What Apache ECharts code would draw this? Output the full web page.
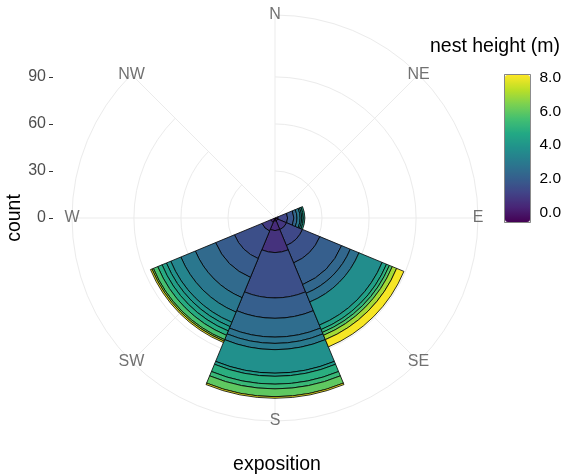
<!DOCTYPE html>
<html>
<head>
<meta charset="utf-8">
<script src="https://cdn.jsdelivr.net/npm/echarts@6/dist/echarts.min.js"></script>
<style>
html,body{margin:0;padding:0;background:#fff;}
#chart{width:564px;height:475px;}
</style>
</head>
<body>
<div id="chart"></div>
<script>
// ---- data ----
const directions = ['N', 'NE', 'E', 'SE', 'S', 'SW', 'W', 'NW'];
const radialTicks = [0, 30, 60, 90];
const legendTicks = [0, 2, 4, 6, 8];
const heightLimits = [-0.6, 8.2];
const radialMax = 129.5;

// stacked nest groups per exposition, inner -> outer
const heightE = [0.5, 1.2, 1.7, 2.3, 2.9, 3.4, 3.9, 4.4];
const countE  = [2, 6, 4, 2, 2, 1, 1, 1];

const heightSE = [0.1, 0.8, 1.3, 1.6, 2.0, 2.3, 2.6, 3.7, 4.4, 5.0, 5.8, 7.0, 8.1];
const countSE  = [2, 6, 11, 12, 15, 6, 6, 16, 3, 2, 2, 3, 5];

const heightS = [-0.4, 0.2, 0.45, 0.65, 1.5, 2.0, 2.5, 2.75, 3.0, 3.8, 4.2, 4.9, 5.3, 6.0, 8.0];
const countS  = [1, 1, 6, 14, 29, 13, 12, 4, 4, 15, 2, 5, 3, 5, 1];

const heightSW = [-0.2, 0.3, 0.9, 1.5, 1.9, 2.4, 2.9, 3.4, 3.9, 4.3, 4.8, 5.6, 6.5, 8.0];
const countSW  = [1, 2, 6, 19, 13, 14, 10, 7, 3, 3, 3, 3, 1, 1];

const viridis = ['#440154', '#482576', '#414487', '#35608D', '#2A788E', '#21908C',
                 '#22A884', '#43BF71', '#7AD151', '#BBDF27', '#FDE725'];

// ---- helpers ----
function hexToRgb(h) {
  return [parseInt(h.slice(1, 3), 16), parseInt(h.slice(3, 5), 16), parseInt(h.slice(5, 7), 16)];
}
function colorFor(h) {
  let t = (h - heightLimits[0]) / (heightLimits[1] - heightLimits[0]);
  t = Math.max(0, Math.min(1, t));
  const p = t * (viridis.length - 1);
  const i = Math.min(Math.floor(p), viridis.length - 2);
  const f = p - i;
  const a = hexToRgb(viridis[i]), b = hexToRgb(viridis[i + 1]);
  const c = a.map((v, k) => Math.round(v + (b[k] - v) * f));
  return 'rgb(' + c.join(',') + ')';
}

const groups = {
  E: { h: heightE, c: countE },
  SE: { h: heightSE, c: countSE },
  S: { h: heightS, c: countS },
  SW: { h: heightSW, c: countSW }
};
const nLayers = Math.max.apply(null, Object.values(groups).map(g => g.c.length));

const FONT = '"Liberation Sans", Arial, Helvetica, sans-serif';
const series = [];
for (let k = 0; k < nLayers; k++) {
  series.push({
    type: 'bar',
    coordinateSystem: 'polar',
    polarIndex: 0,
    stack: 'nests',
    barWidth: '100%',
    silent: true,
    itemStyle: { borderColor: '#000', borderWidth: 0.8 },
    data: directions.map(d => {
      const g = groups[d];
      if (!g || k >= g.c.length) return '-';
      return { value: g.c[k], itemStyle: { color: colorFor(g.h[k]) } };
    })
  });
}
// direction labels sitting on the outer circle
series.push({
  type: 'scatter',
  coordinateSystem: 'polar',
  polarIndex: 0,
  symbolSize: 0,
  silent: true,
  data: directions.map((d, i) => [radialMax, i]),
  label: {
    show: true,
    position: 'inside',
    formatter: p => directions[p.value[1]],
    color: '#4d4d4d',
    fontSize: 16,
    fontFamily: FONT
  },
  z: 5
});
// dummy target for the colour bar
series.push({
  type: 'scatter',
  xAxisIndex: 1,
  yAxisIndex: 1,
  data: []
});
const dummyIndex = series.length - 1;

const option = {
  animation: false,
  backgroundColor: '#fff',
  textStyle: { fontFamily: FONT },
  polar: { center: [275, 218], radius: 203 },
  angleAxis: {
    type: 'category',
    data: directions,
    startAngle: 90,
    clockwise: true,
    boundaryGap: false,
    axisLine: { show: true, lineStyle: { color: '#ebebeb', width: 1 } },
    axisTick: { show: false },
    axisLabel: { show: false },
    splitLine: { show: true, lineStyle: { color: '#ebebeb', width: 1 } }
  },
  radiusAxis: {
    type: 'value',
    min: 0,
    max: radialMax,
    axisLine: { show: false },
    axisTick: { show: false, customValues: radialTicks },
    axisLabel: { show: false, customValues: radialTicks },
    splitLine: { show: true, lineStyle: { color: '#ebebeb', width: 1 } }
  },
  grid: [
    { left: 53, top: 15, width: 1, height: 203 },
    { left: 504.5, top: 74.5, width: 26, height: 148, show: true,
      borderColor: '#333', borderWidth: 0.6, backgroundColor: 'transparent' }
  ],
  xAxis: [
    { type: 'value', gridIndex: 0, show: false },
    { type: 'value', gridIndex: 1, show: false }
  ],
  yAxis: [
    {
      type: 'value', gridIndex: 0, min: 0, max: radialMax, position: 'left',
      axisLine: { show: false },
      axisTick: { show: true, length: 4, lineStyle: { color: '#333' }, customValues: radialTicks },
      axisLabel: { customValues: radialTicks, color: '#4d4d4d', fontSize: 16, margin: 7 },
      splitLine: { show: false }
    },
    {
      type: 'value', gridIndex: 1, min: heightLimits[0], max: heightLimits[1], position: 'right',
      axisLine: { show: false },
      axisTick: { show: false },
      axisLabel: { customValues: legendTicks, formatter: v => v.toFixed(1), color: '#000', fontSize: 15.5, margin: 9 },
      splitLine: { show: false }
    }
  ],
  visualMap: {
    type: 'continuous',
    min: heightLimits[0],
    max: heightLimits[1],
    seriesIndex: [dummyIndex],
    orient: 'vertical',
    left: 505,
    top: 75,
    itemWidth: 25,
    itemHeight: 147,
    padding: 0,
    calculable: false,
    hoverLink: false,
    inRange: { color: viridis },
    z: 3
  },
  graphic: [
    { type: 'text', x: 15, y: 218, rotation: Math.PI / 2,
      style: { text: 'count', fontSize: 19.5, fontFamily: FONT, fill: '#000', align: 'center', verticalAlign: 'middle' } },
    { type: 'text', x: 277, y: 465,
      style: { text: 'exposition', fontSize: 19.5, fontFamily: FONT, fill: '#000', align: 'center', verticalAlign: 'middle' } },
    { type: 'text', x: 430, y: 47,
      style: { text: 'nest height (m)', fontSize: 19.5, fontFamily: FONT, fill: '#000', align: 'left', verticalAlign: 'middle' } }
  ],
  series: series
};

const chart = echarts.init(document.getElementById('chart'), null, { renderer: 'canvas' });
chart.setOption(option);
</script>
</body>
</html>
